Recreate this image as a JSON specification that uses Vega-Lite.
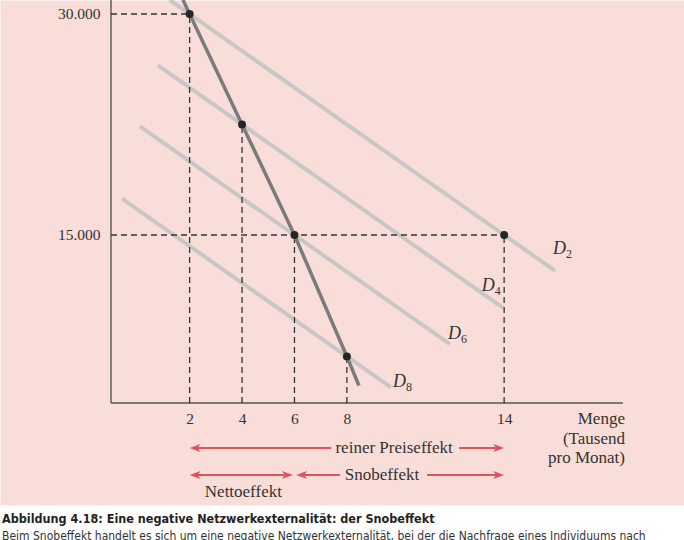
{
  "$schema": "https://vega.github.io/schema/vega-lite/v6.json",
  "width": 684,
  "height": 505,
  "autosize": {"type": "none"},
  "padding": {"left": 0, "top": 0, "right": 0, "bottom": 35},
  "background": "#ffffff",
  "config": {"view": {"fill": "#f9ddd8", "stroke": "transparent"}},
  "title": {
    "text": "Abbildung 4.18: Eine negative Netzwerkexternalität: der Snobeffekt",
    "subtitle": "Beim Snobeffekt handelt es sich um eine negative Netzwerkexternalität, bei der die Nachfrage eines Individuums nach",
    "orient": "bottom",
    "anchor": "start",
    "frame": "group",
    "offset": 8,
    "dx": 2,
    "font": "DejaVu Sans Condensed, Liberation Sans Narrow, DejaVu Sans",
    "fontSize": 12.5,
    "fontWeight": "bold",
    "color": "#222222",
    "subtitleFont": "DejaVu Sans Condensed, Liberation Sans Narrow, DejaVu Sans",
    "subtitleFontSize": 12,
    "subtitleColor": "#333333",
    "subtitlePadding": 5
  },
  "datasets": {
    "axes": [
      {"x": -1, "x2": -1, "y": 3600, "y2": 30950},
      {"x": -1, "x2": 18.53, "y": 3600, "y2": 3600}
    ],
    "dashes": [
      {"x": -1, "x2": 2, "y": 30000, "y2": 30000},
      {"x": -1, "x2": 14, "y": 15000, "y2": 15000},
      {"x": 2, "x2": 2, "y": 3600, "y2": 30000},
      {"x": 4, "x2": 4, "y": 3600, "y2": 22500},
      {"x": 6, "x2": 6, "y": 3600, "y2": 15000},
      {"x": 8, "x2": 8, "y": 3600, "y2": 6750},
      {"x": 14, "x2": 14, "y": 3600, "y2": 15000}
    ],
    "demand": [
      {"d": "D2", "x": 1.24, "y": 30950},
      {"d": "D2", "x": 15.94, "y": 12575},
      {"d": "D4", "x": 0.794, "y": 26507},
      {"d": "D4", "x": 13.96, "y": 10050},
      {"d": "D6", "x": 0.107, "y": 22366},
      {"d": "D6", "x": 11.93, "y": 7587},
      {"d": "D8", "x": -0.58, "y": 17475},
      {"d": "D8", "x": 9.68, "y": 4650}
    ],
    "snob": [
      {"x": 1.747, "y": 30950},
      {"x": 2, "y": 30000},
      {"x": 4, "y": 22500},
      {"x": 6, "y": 15000},
      {"x": 8, "y": 6750},
      {"x": 8.46, "y": 4780}
    ],
    "dots": [
      {"x": 2, "y": 30000},
      {"x": 4, "y": 22500},
      {"x": 6, "y": 15000},
      {"x": 8, "y": 6750},
      {"x": 14, "y": 15000}
    ],
    "dlabels": [
      {"x": 15.86, "y": 14050, "t": "D", "s": "2"},
      {"x": 13.15, "y": 11538, "t": "D", "s": "4"},
      {"x": 11.86, "y": 8280, "t": "D", "s": "6"},
      {"x": 9.76, "y": 5023, "t": "D", "s": "8"}
    ],
    "arrowlines": [
      {"x": 2.2, "x2": 7.4, "y": 543, "y2": 543},
      {"x": 12.28, "x2": 13.8, "y": 543, "y2": 543},
      {"x": 2.2, "x2": 5.75, "y": -1290, "y2": -1290},
      {"x": 6.25, "x2": 7.74, "y": -1290, "y2": -1290},
      {"x": 11.06, "x2": 13.8, "y": -1290, "y2": -1290}
    ],
    "headsLeft": [
      {"x": 2, "y": 543},
      {"x": 2, "y": -1290},
      {"x": 6.06, "y": -1290}
    ],
    "headsRight": [
      {"x": 14, "y": 543},
      {"x": 5.94, "y": -1290},
      {"x": 14, "y": -1290}
    ],
    "notes": [
      {"x": 9.8, "y": 543, "t": "reiner Preiseffekt"},
      {"x": 9.34, "y": -1290, "t": "Snobeffekt"},
      {"x": 4.05, "y": -2443, "t": "Nettoeffekt"}
    ],
    "menge": [
      {"x": 18.61, "y": 2511, "t": "Menge\n(Tausend\npro Monat)"}
    ]
  },
  "encoding": {
    "x": {
      "field": "x",
      "type": "quantitative",
      "scale": {"domain": [-5.2346, 20.862], "nice": false, "zero": false},
      "axis": {
        "values": [2, 4, 6, 8, 14],
        "offset": -102,
        "domain": false,
        "ticks": false,
        "grid": false,
        "labelPadding": 8,
        "labelFont": "Liberation Serif",
        "labelFontSize": 15.5,
        "labelColor": "#333333",
        "title": null
      }
    },
    "y": {
      "field": "y",
      "type": "quantitative",
      "scale": {"domain": [-3326, 30950], "nice": false, "zero": false},
      "axis": {
        "values": [15000, 30000],
        "offset": -111,
        "domain": false,
        "ticks": false,
        "grid": false,
        "labelPadding": 11,
        "labelExpr": "replace(format(datum.value, ','), ',', '.')",
        "labelFont": "Liberation Serif",
        "labelFontSize": 15.5,
        "labelColor": "#333333",
        "title": null
      }
    }
  },
  "layer": [
    {
      "data": {"name": "demand"},
      "mark": {"type": "line", "color": "#c9c6c5", "strokeWidth": 4, "strokeCap": "butt"},
      "encoding": {"detail": {"field": "d"}}
    },
    {
      "data": {"name": "axes"},
      "mark": {"type": "rule", "color": "#555555", "strokeWidth": 1.4},
      "encoding": {"x2": {"field": "x2"}, "y2": {"field": "y2"}}
    },
    {
      "data": {"name": "dashes"},
      "mark": {"type": "rule", "color": "#333333", "strokeWidth": 1.3, "strokeDash": [6, 4]},
      "encoding": {"x2": {"field": "x2"}, "y2": {"field": "y2"}}
    },
    {
      "data": {"name": "snob"},
      "mark": {"type": "line", "color": "#7b7b7b", "strokeWidth": 3.5, "strokeCap": "butt"},
      "encoding": {}
    },
    {
      "data": {"name": "dots"},
      "mark": {"type": "circle", "color": "#262626", "size": 64, "opacity": 1}
    },
    {
      "data": {"name": "dlabels"},
      "mark": {"type": "text", "font": "Liberation Serif", "fontStyle": "italic", "fontSize": 18, "align": "left", "baseline": "middle", "color": "#333333"},
      "encoding": {"text": {"field": "t"}}
    },
    {
      "data": {"name": "dlabels"},
      "mark": {"type": "text", "font": "Liberation Serif", "fontSize": 12, "align": "left", "baseline": "middle", "dx": 13, "dy": 5, "color": "#333333"},
      "encoding": {"text": {"field": "s"}}
    },
    {
      "data": {"name": "arrowlines"},
      "mark": {"type": "rule", "color": "#e0525f", "strokeWidth": 2},
      "encoding": {"x2": {"field": "x2"}, "y2": {"field": "y2"}}
    },
    {
      "data": {"name": "headsLeft"},
      "mark": {"type": "point", "shape": "M0,0 L1.1,-0.4 L0.8,0 L1.1,0.4 Z", "filled": true, "size": 400, "color": "#e0525f", "opacity": 1, "strokeWidth": 0}
    },
    {
      "data": {"name": "headsRight"},
      "mark": {"type": "point", "shape": "M0,0 L-1.1,-0.4 L-0.8,0 L-1.1,0.4 Z", "filled": true, "size": 400, "color": "#e0525f", "opacity": 1, "strokeWidth": 0}
    },
    {
      "data": {"name": "notes"},
      "mark": {"type": "text", "font": "Liberation Serif", "fontSize": 17, "align": "center", "baseline": "middle", "color": "#333333"},
      "encoding": {"text": {"field": "t"}}
    },
    {
      "data": {"name": "menge"},
      "mark": {"type": "text", "font": "Liberation Serif", "fontSize": 17, "align": "right", "baseline": "middle", "lineBreak": "\n", "lineHeight": 19.5, "color": "#333333"},
      "encoding": {"text": {"field": "t"}}
    }
  ]
}
